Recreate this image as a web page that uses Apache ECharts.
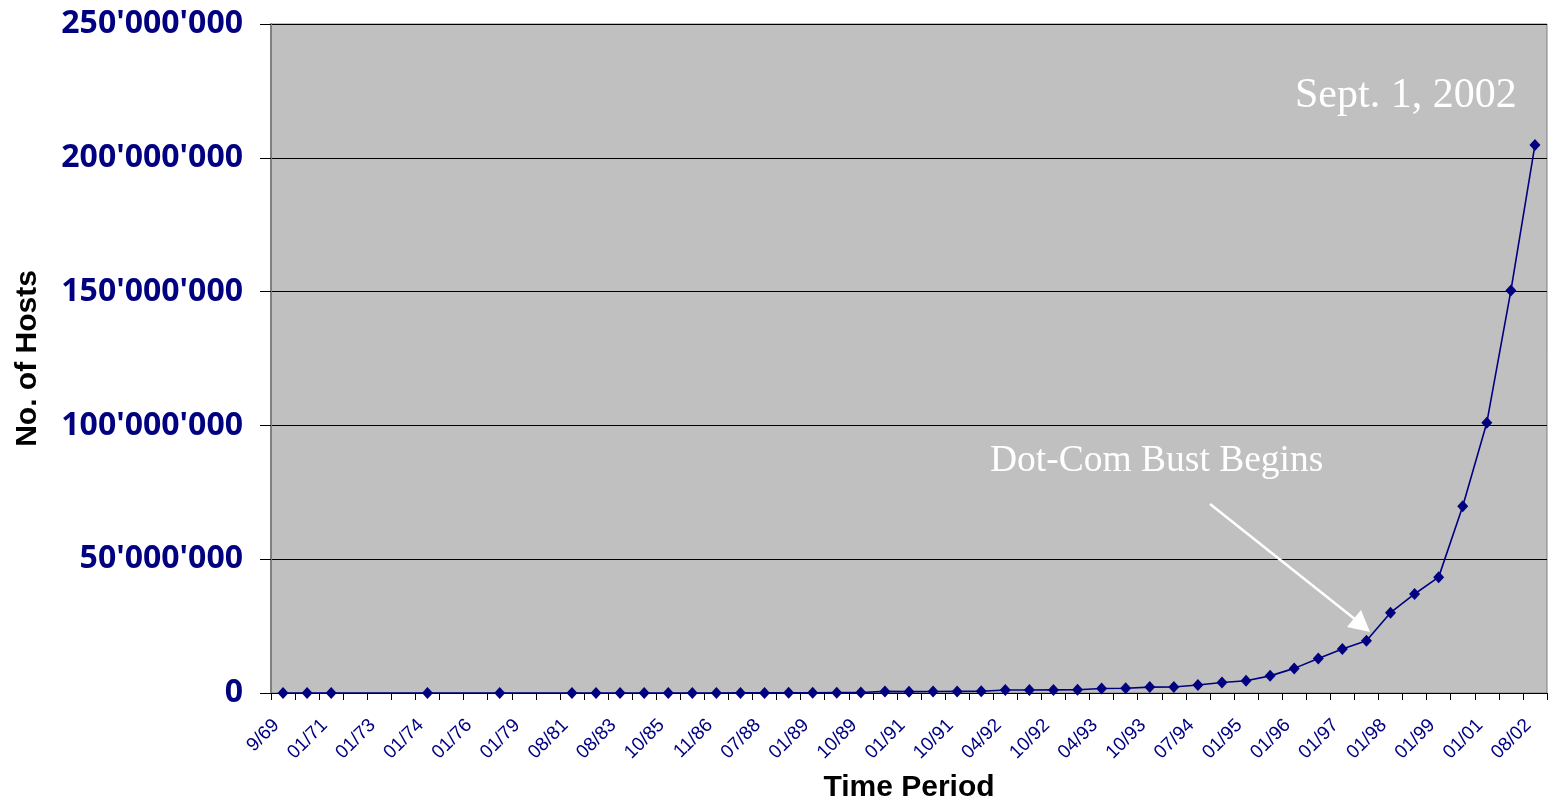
<!DOCTYPE html>
<html>
<head>
<meta charset="utf-8">
<title>No. of Hosts</title>
<script src="https://cdn.jsdelivr.net/npm/echarts@6/dist/echarts.min.js"></script>
<style>
  html, body { margin: 0; padding: 0; background: #fff; }
  #chart { width: 1561px; height: 803px; }
</style>
</head>
<body>
<div id="chart"></div>
<script>
// 时间段（偶数位才显示标签）
var categories = [
  '9/69', '10/70', '01/71', '01/72', '01/73', '06/73', '01/74', '01/75', '01/76', '03/77',
  '01/79', '01/80', '08/81', '05/82', '08/83', '10/84', '10/85', '02/86', '11/86', '12/87',
  '07/88', '10/88', '01/89', '07/89', '10/89', '10/90', '01/91', '07/91', '10/91', '01/92',
  '04/92', '07/92', '10/92', '01/93', '04/93', '07/93', '10/93', '01/94', '07/94', '10/94',
  '01/95', '07/95', '01/96', '07/96', '01/97', '07/97', '01/98', '07/98', '01/99', '01/00',
  '01/01', '01/02', '08/02'
]

// 主机数量（null = 无数据点）
var hosts = [
  4, 13, 23, null, null, null, 62, null, null, 111,
  null, null, 213, 235, 562, 1024, 1961, 2308, 5089, 28174,
  33000, 56000, 80000, 130000, 200000, 600000, 500000, 550000, 600000, 650000,
  1100000, 1100000, 1150000, 1200000, 1700000, 1750000, 2200000, 2250000, 3000000, 3900000,
  4600000, 6400000, 9200000, 12900000, 16400000, 19500000, 30000000, 37000000, 43300000, 69800000,
  101000000, 150400000, 204800000
]

var yMin = 0
var yMax = 250000000
var yStep = 50000000

function fmt(v) {
  return String(v).replace(/\B(?=(\d{3})+(?!\d))/g, "'")
}

var chart = echarts.init(document.getElementById('chart'))

var option = {
  animation: false,
  grid: {
    left: 271,
    right: 14,
    top: 24,
    bottom: 110,
    outerBoundsMode: 'none',
    containLabel: false,
    show: true,
    backgroundColor: '#C0C0C0',
    borderColor: '#808080',
    borderWidth: 1
  },
  xAxis: {
    type: 'category',
    data: categories,
    boundaryGap: true,
    name: 'Time Period',
    nameLocation: 'middle',
    nameGap: 80,
    nameTextStyle: {
      color: '#000',
      fontFamily: 'Liberation Sans',
      fontWeight: 'bold',
      fontSize: 30
    },
    axisLine: { show: true, lineStyle: { color: '#000', width: 1 } },
    axisTick: { show: true, interval: 0, length: 7, lineStyle: { color: '#000' } },
    axisLabel: {
      interval: 1,
      rotate: 45,
      margin: 36,
      verticalAlign: 'bottom',
      color: '#000080',
      fontFamily: 'Liberation Sans',
      fontSize: 19
    },
    splitLine: { show: false }
  },
  yAxis: {
    type: 'value',
    min: yMin,
    max: yMax,
    interval: yStep,
    name: 'No. of Hosts',
    nameLocation: 'middle',
    nameRotate: 90,
    nameGap: 228,
    nameTextStyle: {
      color: '#000',
      fontFamily: 'Liberation Sans',
      fontWeight: 'bold',
      fontSize: 30
    },
    axisLine: { show: true, lineStyle: { color: '#808080', width: 2 } },
    axisTick: { show: true, length: 11, lineStyle: { color: '#000' } },
    axisLabel: {
      margin: 28,
      color: '#000080',
      fontFamily: 'Open Sans',
      fontWeight: 'bold',
      fontSize: 32,
      formatter: fmt
    },
    splitLine: { show: true, lineStyle: { color: '#000', width: 1 } }
  },
  series: [
    {
      name: 'Hosts',
      type: 'line',
      data: hosts,
      connectNulls: true,
      symbol: 'diamond',
      symbolSize: [11, 12],
      itemStyle: { color: '#000080' },
      lineStyle: { color: '#000080', width: 1.6 },
      z: 5
    }
  ],
  // 注释文字和箭头
  graphic: [
    {
      type: 'text',
      left: 1295,
      top: 75,
      z: 10,
      style: {
        text: 'Sept. 1, 2002',
        fill: '#fff',
        fontFamily: 'Liberation Serif',
        fontSize: 42
      }
    },
    {
      type: 'text',
      left: 990,
      top: 442,
      z: 10,
      style: {
        text: 'Dot-Com Bust Begins',
        fill: '#fff',
        fontFamily: 'Liberation Serif',
        fontSize: 37.5
      }
    },
    {
      type: 'line',
      z: 10,
      shape: { x1: 1210, y1: 504, x2: 1356, y2: 620 },
      style: { stroke: '#fff', lineWidth: 2.5 }
    },
    {
      type: 'polygon',
      z: 10,
      shape: { points: [[1370, 632], [1347, 627], [1361, 610]] },
      style: { fill: '#fff' }
    }
  ]
}

chart.setOption(option)
</script>
</body>
</html>
